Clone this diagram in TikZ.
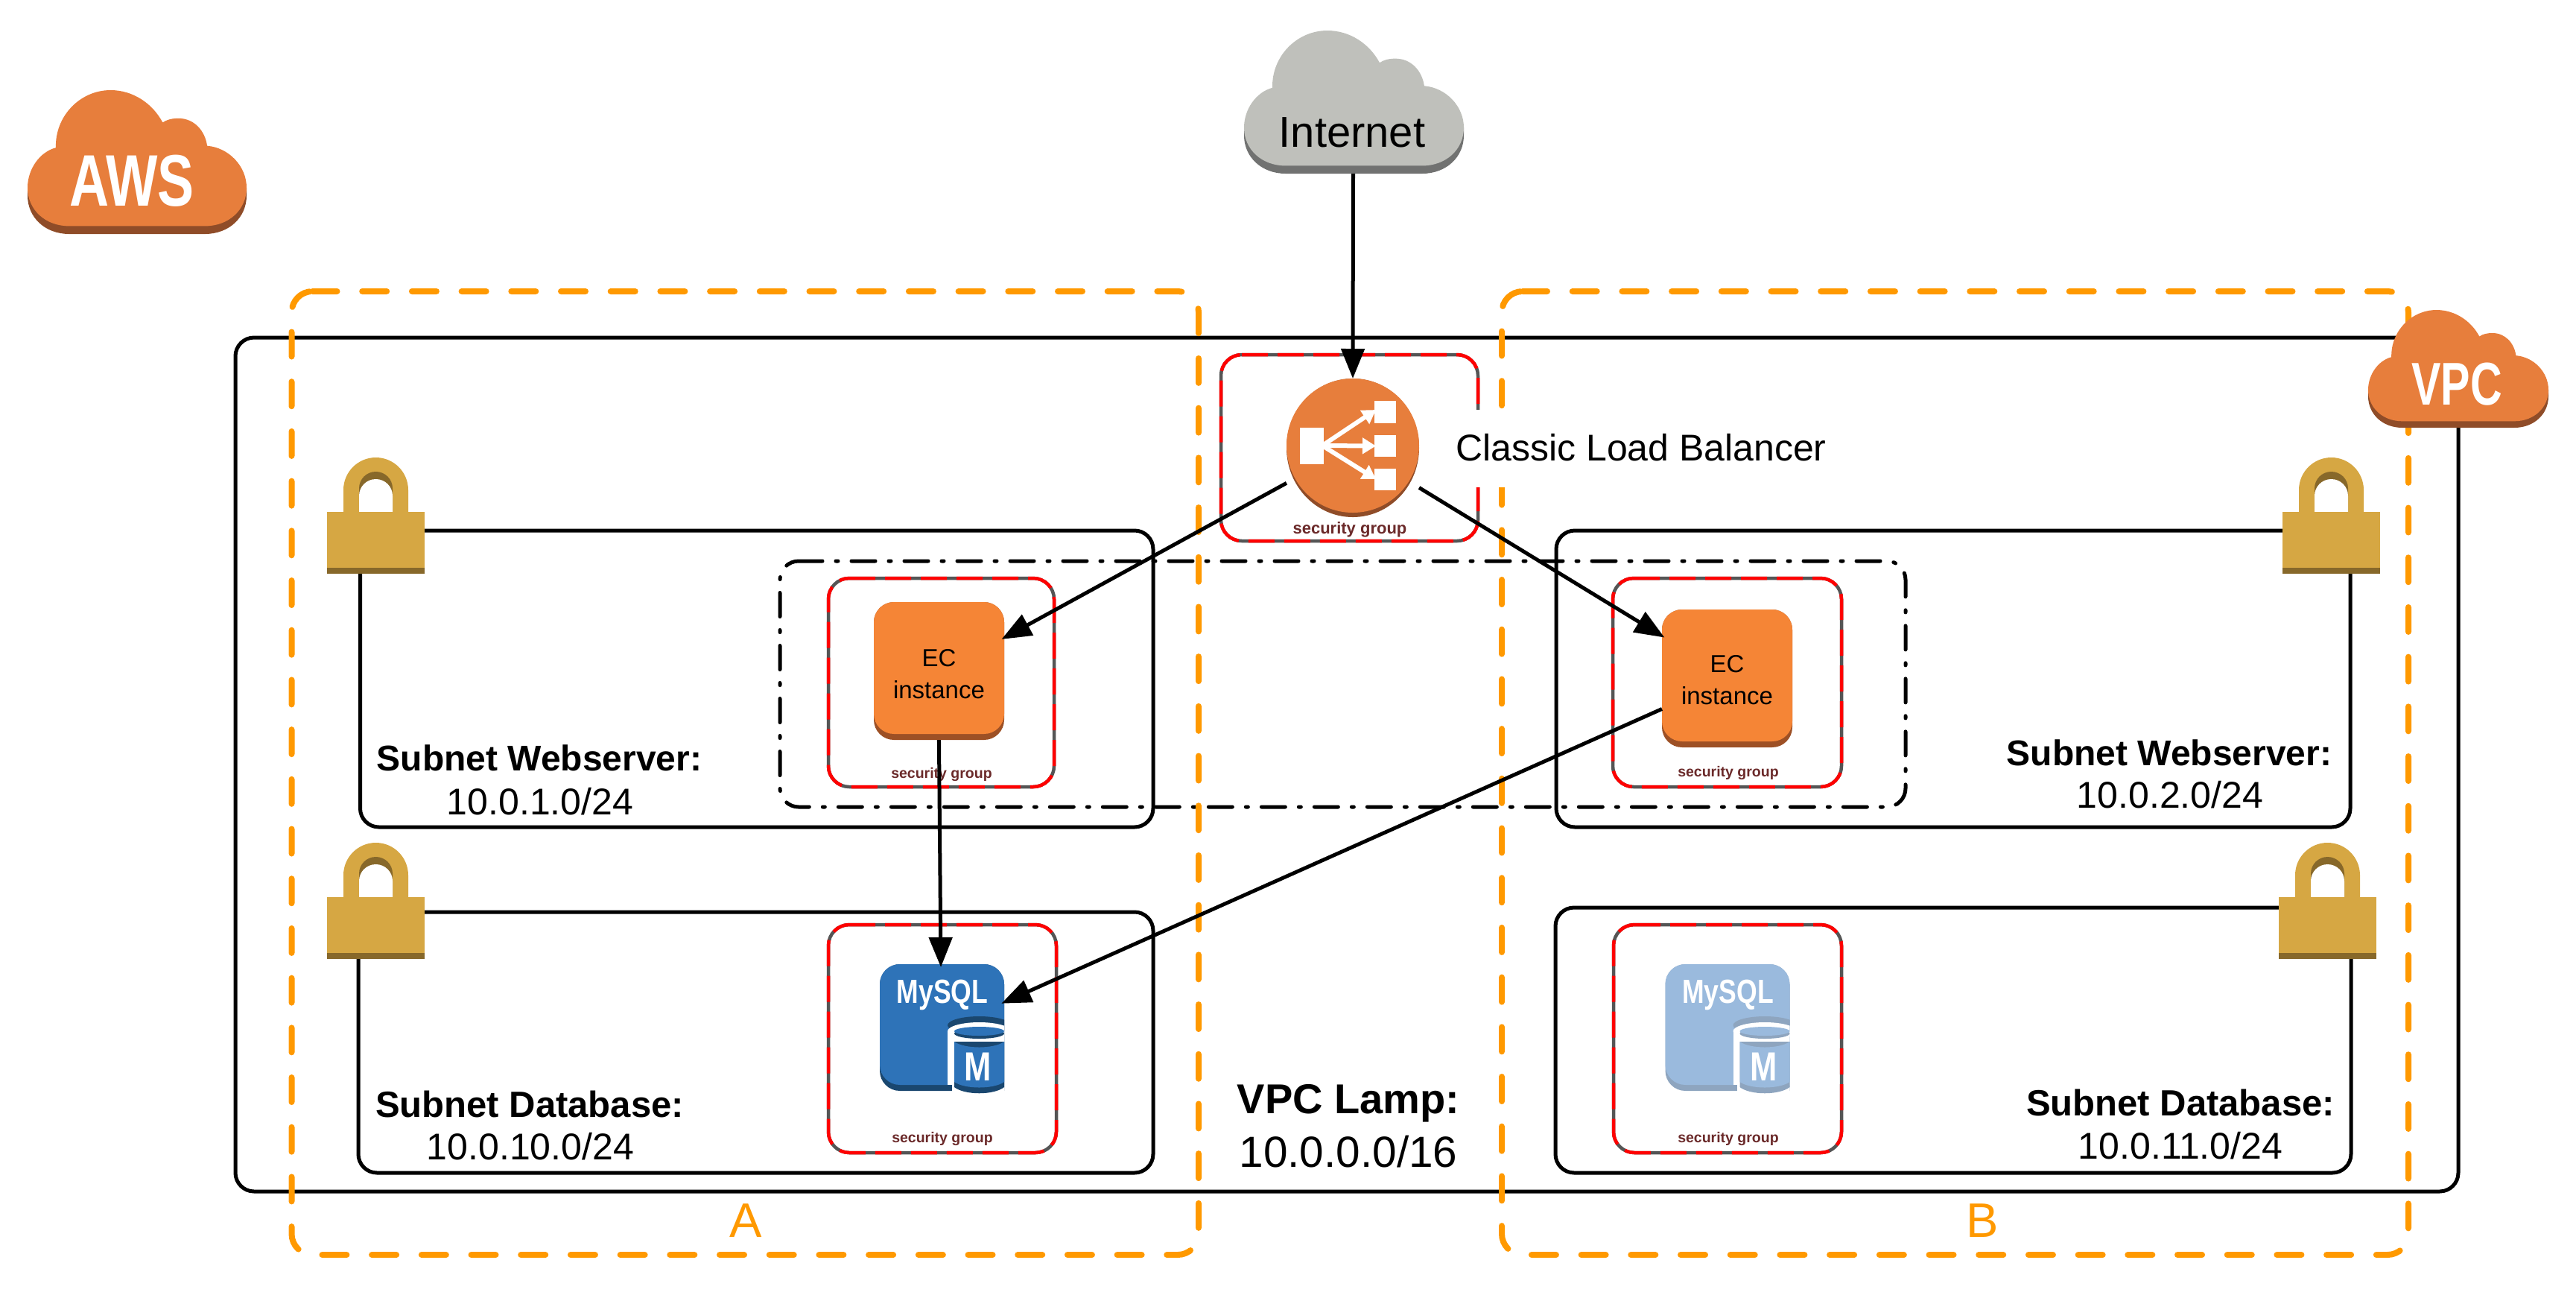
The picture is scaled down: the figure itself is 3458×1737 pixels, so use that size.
\documentclass[tikz,border=0pt]{standalone}
\usepackage{fontspec}
\setmainfont{Liberation Sans}
\usetikzlibrary{arrows.meta}
\definecolor{awsorange}{HTML}{E77E3C}
\definecolor{awsdark}{HTML}{8F4C28}
\definecolor{netgrey}{HTML}{BFC0BB}
\definecolor{netdark}{HTML}{717271}
\definecolor{lockface}{HTML}{D6A743}
\definecolor{lockdark}{HTML}{87682A}
\definecolor{ecface}{HTML}{F58536}
\definecolor{ecdark}{HTML}{9D5025}
\definecolor{dbface}{HTML}{2E73B8}
\definecolor{dbdark}{HTML}{1A476F}
\definecolor{dbfacel}{HTML}{9ABADD}
\definecolor{dbdarkl}{HTML}{8EA5BF}
\definecolor{azorange}{HTML}{FF9900}
\definecolor{sgtext}{HTML}{6B2A2A}
\definecolor{sggrey}{HTML}{555555}
\newcommand{\fsz}[1]{\fontsize{#1}{#1}\selectfont}
% #2 x0, #3 y0, #4 x1, #5 y1, #6 radius; the path starts just after the top-left corner
\newcommand{\rbox}[6][]{\draw[#1] ({#2+#6},#3) -- ({#4-#6},#3)
  .. controls ({#4-0.45*#6},#3) and (#4,{#3+0.45*#6}) .. (#4,{#3+#6})
  -- (#4,{#5-#6})
  .. controls (#4,{#5-0.45*#6}) and ({#4-0.45*#6},#5) .. ({#4-#6},#5)
  -- ({#2+#6},#5)
  .. controls ({#2+0.45*#6},#5) and (#2,{#5-0.45*#6}) .. (#2,{#5-#6})
  -- (#2,{#3+#6})
  .. controls (#2,{#3+0.45*#6}) and ({#2+0.45*#6},#3) .. ({#2+#6},#3) -- cycle;}
\newcommand{\sgbox}[4]{%
  \rbox[sggrey,line width=0.9pt]{#1}{#2}{#3}{#4}{28}
  \rbox[red,line width=0.9pt,dash pattern=on 7pt off 2.6pt]{#1}{#2}{#3}{#4}{28}}
\newcommand{\cloudicon}[6]{%
  \begin{scope}[shift={(#1,#2)},x=#3*0.2pt,y=-#4*0.2pt]
    \fill[#6] (0,.678) -- (0,.733) .. controls (0,.885) and (.08,1) .. (.19,1) -- (.81,1) .. controls (.92,1) and (1,.885) .. (1,.733) -- (1,.678) -- cycle;
    \fill[#5] (0,.678) .. controls (0,.55) and (.055,.43) .. (.129,.40)
      .. controls (.125,.18) and (.24,0) .. (.379,0)
      .. controls (.48,0) and (.57,.09) .. (.617,.225)
      .. controls (.635,.205) and (.66,.196) .. (.689,.196)
      .. controls (.76,.196) and (.81,.28) .. (.82,.387)
      .. controls (.92,.40) and (1,.53) .. (1,.678)
      .. controls (1,.83) and (.92,.945) .. (.81,.945)
      -- (.19,.945)
      .. controls (.08,.945) and (0,.83) .. (0,.678) -- cycle;
  \end{scope}}
\newcommand{\lockicon}[2]{%
  \begin{scope}[shift={(#1,#2)}]
    \fill[lockface] (22,74) -- (22,43.5) .. controls (22,19.5) and (41.5,0) .. (65.5,0) .. controls (89.5,0) and (109,19.5) .. (109,43.5) -- (109,74) -- cycle;
    \fill[lockdark] (43,74) -- (43,41.5) .. controls (43,29) and (53,19) .. (65.5,19) .. controls (78,19) and (88,29) .. (88,41.5) -- (88,74) -- cycle;
    \fill[white] (43,74) -- (43,51.5) .. controls (43,39) and (53,29) .. (65.5,29) .. controls (78,29) and (88,39) .. (88,51.5) -- (88,74) -- cycle;
    \fill[lockface] (0,73) rectangle (131,148);
    \fill[lockdark] (0,148) rectangle (131,156);
  \end{scope}}
\newcommand{\ecbody}[2]{%
  \fill[ecdark,rounded corners=5.4pt] (#1,#2) rectangle ({#1+175},{#2+185});
  \fill[ecface,rounded corners=5.4pt] (#1,#2) rectangle ({#1+175},{#2+177});}
\newcommand{\dbbody}[4]{%
  \begin{scope}[shift={(#1,0)}]
    \fill[#3] (1208,1294) -- (1321,1294) .. controls (1336,1294) and (1348,1306) .. (1348,1321) -- (1348,1464) -- (1208,1464) .. controls (1193,1464) and (1181,1452) .. (1181,1437) -- (1181,1321) .. controls (1181,1306) and (1193,1294) .. (1208,1294) -- cycle;
    \fill[#2] (1208,1294) -- (1321,1294) .. controls (1336,1294) and (1348,1306) .. (1348,1321) -- (1348,1456) -- (1208,1456) .. controls (1193,1456) and (1181,1444) .. (1181,1429) -- (1181,1321) .. controls (1181,1306) and (1193,1294) .. (1208,1294) -- cycle;
    \begin{scope}
      \clip (1260,1350) rectangle (1348,1475);
      \fill[#3] (1314.5,1376) ellipse [x radius=42.5,y radius=12];
      \fill[white] (1314.5,1384) ellipse [x radius=42.5,y radius=12];
      \fill[white] (1272,1384) rectangle (1360,1456);
      \fill[white] (1277.5,1450) rectangle (1360,1475);
      \fill[#3] (1281,1398) -- (1348,1398) -- (1348,1459) .. controls (1334,1470) and (1295,1470) .. (1281,1459) -- cycle;
      \fill[#2] (1281,1398) .. controls (1295,1408) and (1334,1408) .. (1348,1398) -- (1348,1452) .. controls (1334,1462) and (1295,1462) .. (1281,1452) -- cycle;
      \fill[#3] (1314.5,1387) ellipse [x radius=33.5,y radius=7];
      \fill[#2] (1314.5,1384) ellipse [x radius=33.5,y radius=6];
    \end{scope}
  \end{scope}
  \node[icontext] (#4m) at ({#1+1313},1432) {\fsz{10.9}\bfseries\scalebox{0.8}[1]{M}};
  \node[icontext] (#4t) at ({#1+1265},1335) {\fsz{9}\bfseries\scalebox{0.79}[1]{MySQL}};}
\tikzset{
  vpcline/.style={black,line width=1pt},
  subnetline/.style={black,line width=1pt},
  azline/.style={azorange,line width=1.6pt,line cap=round,dash pattern=on 6.6pt off 6.74pt},
  dashdotline/.style={black,line width=1pt,line cap=round,dash pattern=on 6.4pt off 3.6pt on 0.6pt off 3.6pt},
  anchorbox/.style={rectangle,inner sep=0pt,outer sep=0pt},
  lbl/.style={inner sep=0pt,outer sep=0pt,align=center,text=black},
  icontext/.style={inner sep=0pt,outer sep=0pt,text=white},
  sglabel/.style={inner sep=0pt,outer sep=0pt,text=sgtext,font=\fsz{3.9}\bfseries},
  arr/.style={black,line width=1pt,-{Triangle[length=8pt,width=6.2pt]},shorten >=-0.8pt},
  wlink/.style={white,line width=1.2pt,-{Triangle[length=3.6pt,width=4.2pt]}}
}
\begin{document}
\begin{tikzpicture}[x=0.2pt,y=-0.2pt]
\useasboundingbox (0,0) rectangle (3458,1737);
% VPC and subnets
\rbox[vpcline]{316}{453}{3300}{1599}{25}
\rbox[subnetline]{483.5}{712}{1548}{1110}{25}
\rbox[subnetline]{2089}{712}{3155}{1110}{25}
\rbox[subnetline]{481}{1224}{1548}{1574}{25}
\rbox[subnetline]{2088}{1218}{3156}{1574}{25}
% security groups
\sgbox{1639}{476}{1984}{726}
\sgbox{1112}{776}{1415}{1056}
\sgbox{2165}{776}{2472}{1056}
\sgbox{1112}{1241}{1418}{1547}
\sgbox{2166}{1241}{2472}{1547}
% dash-dot auto scaling group
\rbox[dashdotline]{1047}{753}{2558}{1083}{25}
% icons
\ecbody{1173}{808}
\ecbody{2231}{818}
\dbbody{0}{dbface}{dbdark}{dba}
\dbbody{1054.5}{dbfacel}{dbdarkl}{dbb}
\fill[awsdark] (1816,601) ellipse [x radius=89,y radius=93];
\fill[awsorange] (1816,598) ellipse [x radius=89,y radius=90];
\fill[white] (1745,574) rectangle (1777,623);
\fill[white] (1845,538) rectangle (1874,568);
\fill[white] (1845,584) rectangle (1874,613);
\fill[white] (1845,629) rectangle (1874,658);
\draw[wlink] (1775,598) -- (1847,550);
\draw[wlink] (1775,598) -- (1847,598.5);
\draw[wlink] (1775,598) -- (1847,643);
% availability zones
\rbox[azline]{391.5}{391}{1609}{1684}{28}
\rbox[azline]{2016}{391}{3233}{1684}{28}
\node[lbl,text=azorange,font=\fsz{13}] (azA) at (1001,1638) {A};
\node[lbl,text=azorange,font=\fsz{13}] (azB) at (2661,1638) {B};
% load balancer label
\node[anchorbox,fill=white,minimum width=104pt,minimum height=20.8pt] (lblbg) at (2203,602) {};
\node[lbl,font=\fsz{10}] (lbtext) at (2203,601) {Classic Load Balancer};
% locks
\lockicon{439}{614}
\lockicon{3064}{614}
\lockicon{439}{1131}
\lockicon{3059}{1131}
% clouds
\cloudicon{37}{121}{294}{193}{awsorange}{awsdark}
\node[icontext] (awstext) at (177,243) {\fsz{19.6}\bfseries\scalebox{0.75}[1]{AWS}};
\cloudicon{1670}{41}{295}{192}{netgrey}{netdark}
\node[lbl,font=\fsz{11.6}] (nettext) at (1815,178) {Internet};
\cloudicon{3179}{416}{242}{158}{awsorange}{awsdark}
\node[icontext] (vpctext) at (3298,516) {\fsz{16.2}\bfseries\scalebox{0.73}[1]{VPC}};
% labels
\node[lbl,font=\fsz{9.6}\bfseries] (sw1) at (724,1017) {Subnet Webserver:};
\node[lbl,font=\fsz{10}] (sw1c) at (725,1076) {10.0.1.0/24};
\node[lbl,font=\fsz{9.6}\bfseries] (sw2) at (2912,1010) {Subnet Webserver:};
\node[lbl,font=\fsz{10}] (sw2c) at (2913,1067) {10.0.2.0/24};
\node[lbl,font=\fsz{9.8}\bfseries] (sd1) at (711,1482) {Subnet Database:};
\node[lbl,font=\fsz{10}] (sd1c) at (712,1539) {10.0.10.0/24};
\node[lbl,font=\fsz{9.8}\bfseries] (sd2) at (2927,1480) {Subnet Database:};
\node[lbl,font=\fsz{10}] (sd2c) at (2927,1538) {10.0.11.0/24};
\node[lbl,font=\fsz{11.2}\bfseries] (vpcl) at (1810,1481) {VPC Lamp:};
\node[lbl,font=\fsz{11.7}] (vpcc) at (1810,1546) {10.0.0.0/16};
\node[sglabel,font=\fsz{4.4}\bfseries] (sg1) at (1812,711) {security group};
\node[sglabel] (sg2) at (1264,1039) {security group};
\node[sglabel] (sg3) at (2320,1037) {security group};
\node[sglabel] (sg4) at (1265,1528) {security group};
\node[sglabel] (sg5) at (2320,1528) {security group};
% anchor nodes
\node[anchorbox,minimum width=59pt,minimum height=38.4pt] (internet) at (1816.5,137) {};
\node[anchorbox,minimum width=35.6pt,minimum height=37.2pt] (lb) at (1816,601) {};
\node[anchorbox,minimum width=35pt,minimum height=37pt,align=center,font=\fontsize{6.6}{8.6}\selectfont] (ec1) at (1260.5,904.5) {EC\\instance};
\node[anchorbox,minimum width=35pt,minimum height=37pt,align=center,font=\fontsize{6.6}{8.6}\selectfont] (ec2) at (2318.5,912.5) {EC\\instance};
\node[anchorbox,minimum width=33.4pt,minimum height=34.6pt] (mysql1) at (1264.5,1380.5) {};
% connectors
\draw[arr,shorten >=0pt] (internet.south) -- (lb.north);
\draw[arr] (lb.208.3) -- (ec1.29);
\draw[arr] (lb.-31.7) -- (ec2.146.7);
\draw[arr,shorten <=-0.8pt] (ec1.south) -- (mysql1.91);
\draw[arr] (ec2.204.3) -- (mysql1.23.7);
\end{tikzpicture}
\end{document}
